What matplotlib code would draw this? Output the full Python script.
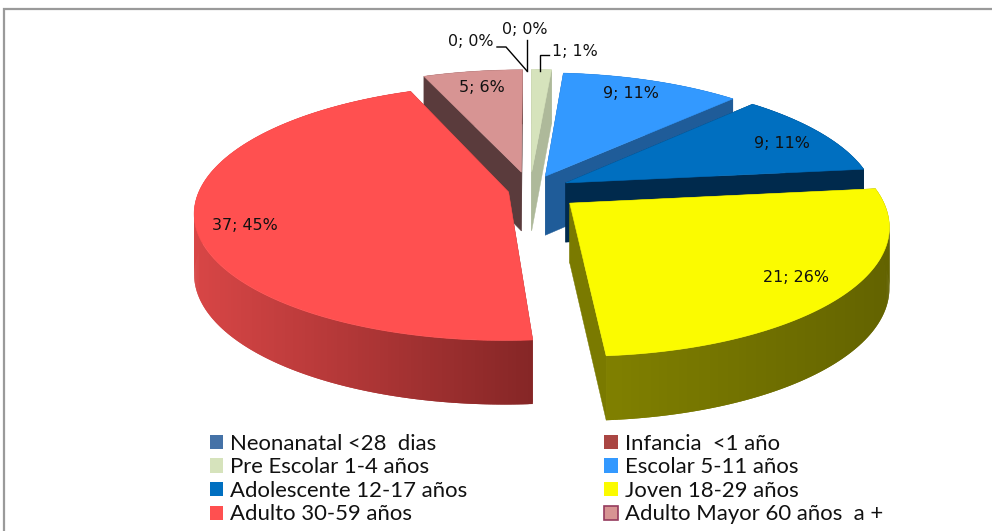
import numpy as np
import matplotlib
matplotlib.use("Agg")
import matplotlib.pyplot as plt
from matplotlib.patches import Polygon, Patch
from matplotlib.colors import to_rgb

# ---- data ----
categories = ["Neonanatal <28  dias", "Infancia  <1 año", "Pre Escolar 1-4 años",
              "Escolar 5-11 años", "Adolescente 12-17 años", "Joven 18-29 años",
              "Adulto 30-59 años", "Adulto Mayor 60 años  a +"]
values = [0, 0, 1, 9, 9, 21, 37, 5]
percents = [0, 0, 1, 11, 11, 26, 45, 6]

# ---- style ----
top_colors = ["#4572A7", "#AA4643", "#D6E3BC", "#3399FF", "#006FC0", "#FBFB00", "#FF5050", "#D79493"]
radial_colors = ["#2A4565", "#662A28", "#AEB99A", "#1F5C99", "#002A4D", "#7A7A00", "#8A2A2A", "#5A3B3C"]
rim_left = ["#2A4565", "#662A28", "#AEB99A", "#1F5C99", "#002A4D", "#808000", "#D84646", "#5A3B3C"]
rim_right = ["#2A4565", "#662A28", "#AEB99A", "#1F5C99", "#002A4D", "#636300", "#852626", "#5A3B3C"]
explode = [0.15, 0.15, 0.15, 0.124, 0.13, 0.164, 0.071, 0.15]
draw_order = [7, 2, 3, 4, 6, 5]
CX, CY, RX, RY, PERSP = 530, 190, 309, 124, 0.16


def project(u, v):
    w = 1 + PERSP * v
    return CX + RX * u / w, CY - RY * v / w


def wall_height(v):
    return 59.5 - 4.5 * v


fig = plt.figure(figsize=(9.92, 5.31), dpi=100)
ax = fig.add_axes([0, 0, 1, 1])
ax.set_xlim(0, 992)
ax.set_ylim(531, 0)
ax.axis("off")

# chart frame (top and left only are visible)
ax.plot([4, 4, 992], [531, 9, 9], color="#9A9A9A", lw=1.6, solid_joinstyle="miter", zorder=1)

total = sum(values)
edges = np.cumsum([0] + values) / total * 2 * np.pi
z = 2
for i in draw_order:
    t0, t1 = edges[i], edges[i + 1]
    mid = (t0 + t1) / 2
    du, dv = explode[i] * np.sin(mid), explode[i] * np.cos(mid)
    th = np.linspace(t0, t1, max(int((t1 - t0) * 90), 4))
    U, V = du + np.sin(th), dv + np.cos(th)
    X, Y = project(U, V)
    ax0, ay0 = project(du, dv)
    hA = wall_height(dv)
    # radial walls
    for px, py, pv in [(X[0], Y[0], V[0]), (X[-1], Y[-1], V[-1])]:
        ax.add_patch(Polygon([(ax0, ay0), (px, py), (px, py + wall_height(pv)), (ax0, ay0 + hA)],
                             closed=True, fc=radial_colors[i], ec=radial_colors[i], lw=0.3, zorder=z))
    # rim wall with horizontal shading: overlapping strips hide the seams
    c0, c1 = np.array(to_rgb(rim_left[i])), np.array(to_rgb(rim_right[i]))
    bottom = Y + wall_height(V)
    xmin, xmax = X.min(), X.max()
    for k in range(len(th) - 1):
        e = min(k + 2, len(th) - 1)
        f = ((X[k] + X[k + 1]) / 2 - xmin) / max(xmax - xmin, 1)
        col = tuple(c0 + (c1 - c0) * f)
        ax.add_patch(Polygon(np.column_stack([np.r_[X[k:e + 1], X[k:e + 1][::-1]],
                                              np.r_[Y[k:e + 1], bottom[k:e + 1][::-1]]]),
                             closed=True, fc=col, ec="none", zorder=z))
    # top face
    ax.add_patch(Polygon(np.column_stack([np.r_[ax0, X], np.r_[ay0, Y]]), closed=True,
                         fc=top_colors[i], ec=top_colors[i], lw=0.4, zorder=z + 1))
    z += 2

# data labels
label_pos = {0: (471, 42), 1: (525, 30), 2: (575, 51), 3: (631, 94), 4: (782, 143),
             5: (796, 278), 6: (245, 226), 7: (482, 87)}
for i, (x, y) in label_pos.items():
    ax.text(x, y, f"{values[i]}; {percents[i]}%", ha="center", va="center",
            fontsize=11.4, family="DejaVu Sans", color="#111111", zorder=50)

# leader lines
lead = dict(color="black", lw=1.0, zorder=40, solid_joinstyle="miter")
ax.plot([497, 506, 527], [47, 47, 71], **lead)
ax.plot([527, 527], [40, 71], **lead)
ax.plot([549, 540, 540], [55, 55, 71], **lead)

# legend
handles = [Patch(fc=top_colors[i], ec="#953B5E" if i == 7 else top_colors[i],
                 lw=1.2 if i == 7 else 0, label=categories[i]) for i in range(8)]
order = [0, 2, 4, 6, 1, 3, 5, 7]
fs = 15.9
leg = ax.legend([handles[i] for i in order], [categories[i] for i in order],
                ncol=2, frameon=False, loc="upper left", bbox_to_anchor=(209.5 / 992, 1 - 433.5 / 531),
                borderaxespad=0, borderpad=0, prop={"family": "Lato", "size": fs},
                handlelength=0.62, handleheight=0.62, handletextpad=0.31,
                labelspacing=0.165, columnspacing=6.2)
for t in leg.get_texts():
    t.set_color("#111111")

fig.savefig("out.png", dpi=100)
